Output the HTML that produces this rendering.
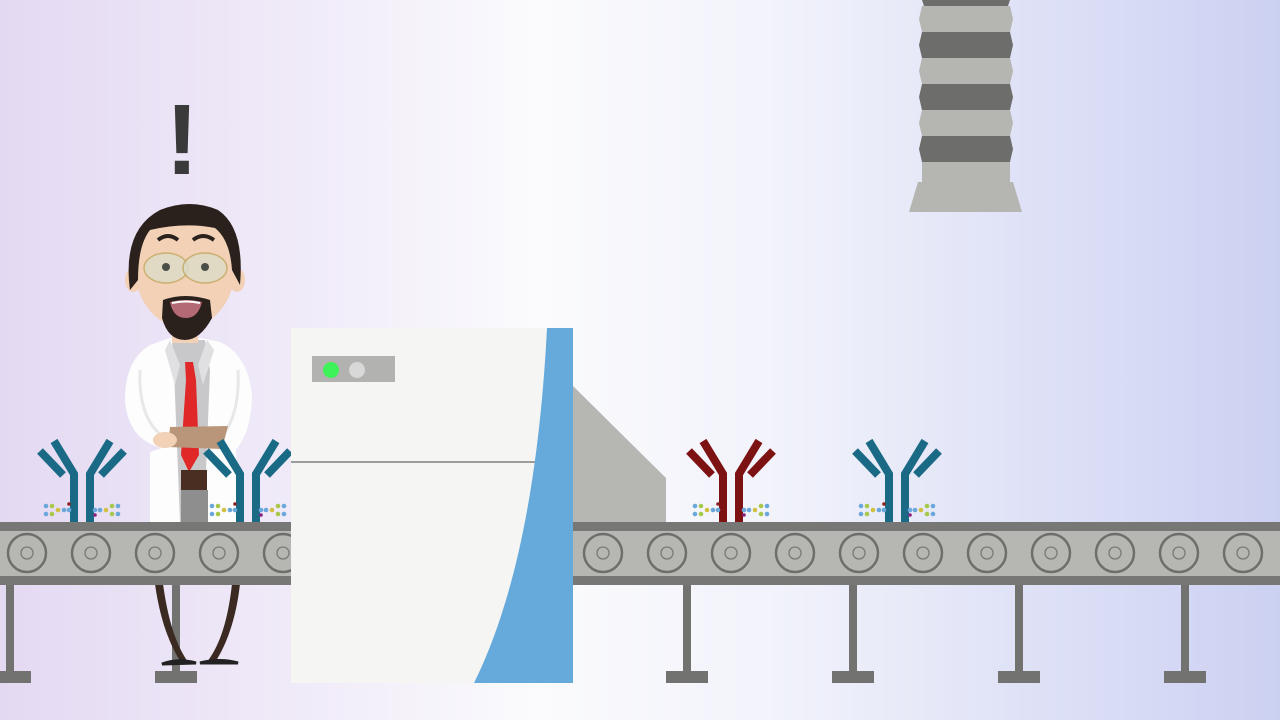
<!DOCTYPE html>
<html><head><meta charset="utf-8"><style>
html,body{margin:0;padding:0;width:1280px;height:720px;overflow:hidden}
svg{display:block}
</style></head><body>
<svg width="1280" height="720" viewBox="0 0 1280 720" xmlns="http://www.w3.org/2000/svg">
<defs>
<linearGradient id="bg" x1="0" y1="0" x2="1" y2="0">
<stop offset="0" stop-color="#e4d9f2"/>
<stop offset="0.25" stop-color="#f1ecf9"/>
<stop offset="0.42" stop-color="#fbfbfd"/>
<stop offset="0.6" stop-color="#f2f3fb"/>
<stop offset="1" stop-color="#ccd1f2"/>
</linearGradient>
<g id="ab">
<g fill="none" stroke-width="8" stroke-linecap="butt">
<polyline points="-8,522 -8,474 -28,441"/>
<polyline points="8,522 8,474 28,441"/>
<line x1="-42" y1="451" x2="-19" y2="475"/>
<line x1="42" y1="451" x2="19" y2="475"/>
</g>
<g stroke="none">
<circle cx="-36" cy="506" r="2.3" fill="#6aa8dc"/><circle cx="-36" cy="514" r="2.3" fill="#6aa8dc"/>
<circle cx="-30" cy="506" r="2.3" fill="#a8c84a"/><circle cx="-30" cy="514" r="2.3" fill="#a8c84a"/>
<circle cx="-24" cy="510" r="2.3" fill="#d2c040"/>
<circle cx="-18" cy="510" r="2.3" fill="#6aa8dc"/><circle cx="-13" cy="510" r="2.3" fill="#6aa8dc"/>
<circle cx="-13" cy="504" r="1.8" fill="#8a2020"/>
<circle cx="36" cy="506" r="2.3" fill="#6aa8dc"/><circle cx="36" cy="514" r="2.3" fill="#6aa8dc"/>
<circle cx="30" cy="506" r="2.3" fill="#a8c84a"/><circle cx="30" cy="514" r="2.3" fill="#a8c84a"/>
<circle cx="24" cy="510" r="2.3" fill="#d2c040"/>
<circle cx="18" cy="510" r="2.3" fill="#6aa8dc"/><circle cx="13" cy="510" r="2.3" fill="#6aa8dc"/>
<circle cx="13" cy="515" r="1.8" fill="#8a2080"/>
</g>
</g>
<g id="roller"><circle r="19" fill="none" stroke="#6e6e6c" stroke-width="2.5"/><circle r="6" fill="none" stroke="#7a7a78" stroke-width="1.3"/></g>
<g id="leg"><rect x="-4" y="584" width="8" height="90" fill="#727270"/><rect x="-21" y="671" width="42" height="12" fill="#727270"/></g>
</defs>
<rect width="1280" height="720" fill="url(#bg)"/>

<g>
<polygon points="922,0 1010,0 1008,6 924,6" fill="#6d6d6b"/>
<polygon points="922,6 1010,6 1013,19 1010,32 922,32 919,19" fill="#b5b5b1"/>
<polygon points="922,32 1010,32 1013,45 1010,58 922,58 919,45" fill="#6d6d6b"/>
<polygon points="922,58 1010,58 1013,71 1010,84 922,84 919,71" fill="#b5b5b1"/>
<polygon points="922,84 1010,84 1013,97 1010,110 922,110 919,97" fill="#6d6d6b"/>
<polygon points="922,110 1010,110 1013,123 1010,136 922,136 919,123" fill="#b5b5b1"/>
<polygon points="922,136 1010,136 1013,149 1010,162 922,162 919,149" fill="#6d6d6b"/>
<rect x="922" y="162" width="88" height="22" fill="#b5b5b1"/>
<polygon points="918,182 1013,182 1022,212 909,212" fill="#b5b5b1"/>
</g>

<use href="#leg" x="10"/><use href="#leg" x="176"/>
<use href="#leg" x="687"/><use href="#leg" x="853"/><use href="#leg" x="1019"/><use href="#leg" x="1185"/>

<path d="M163,584 C168,620 176,645 188,662 L182,664 C170,646 160,620 155,584Z" fill="#3a2a22"/>
<path d="M232,584 C228,620 220,645 207,662 L214,664 C226,646 236,620 240,584Z" fill="#3a2a22"/>
<path d="M162,664 Q178,658 196,663 Z" fill="#222" stroke="#222" stroke-width="3"/>
<path d="M200,663 Q220,658 238,663 Z" fill="#222" stroke="#222" stroke-width="3"/>

<text x="182" y="174" font-family="Liberation Sans, sans-serif" font-size="100" font-weight="bold" fill="#3a3a3a" text-anchor="middle">!</text>
<path d="M150,345 Q125,360 125,400 Q128,440 162,448 L150,452 L150,522 L238,522 L236,450 Q252,430 252,395 Q248,355 220,342 L200,338 L170,338Z" fill="#fdfdfd"/>
<path d="M140,370 Q138,420 165,438" fill="none" stroke="#e8e8ea" stroke-width="3"/>
<path d="M238,370 Q240,410 225,432" fill="none" stroke="#e8e8ea" stroke-width="3"/>
<polygon points="172,340 205,340 210,370 204,522 180,522 174,370" fill="#c8c8ca"/>
<polygon points="170,340 180,365 175,385 165,350" fill="#e0e0e2"/>
<polygon points="207,340 198,365 203,385 214,350" fill="#e0e0e2"/>
<polygon points="185,362 193,362 196,380 199,455 189,472 181,455 186,380" fill="#e02828"/>
<rect x="181" y="470" width="26" height="22" fill="#4a2e22"/>
<rect x="181" y="490" width="27" height="32" fill="#8e8e8e"/>
<polygon points="170,427 228,426 222,449 168,447" fill="#b9957a"/>
<ellipse cx="165" cy="440" rx="12" ry="8" fill="#f2d1b6"/>
<rect x="172" y="325" width="26" height="18" fill="#f2d1b6"/>
<ellipse cx="133" cy="280" rx="8" ry="12" fill="#f2d1b6"/>
<ellipse cx="237" cy="280" rx="8" ry="12" fill="#f2d1b6"/>
<ellipse cx="185" cy="268" rx="50" ry="60" fill="#f2d1b6"/>
<path d="M130,290 Q122,230 160,210 Q190,198 218,210 Q245,228 240,285 L232,270 Q230,240 215,228 Q185,222 150,230 Q138,245 138,280Z" fill="#2a201c"/>
<path d="M158,240 Q168,232 178,240" stroke="#2a201c" stroke-width="4" fill="none"/>
<path d="M193,240 Q203,232 214,240" stroke="#2a201c" stroke-width="4" fill="none"/>
<ellipse cx="166" cy="268" rx="22" ry="15" fill="#dcdcc8" opacity="0.8" stroke="#c2a860" stroke-width="1.5"/>
<ellipse cx="205" cy="268" rx="22" ry="15" fill="#dcdcc8" opacity="0.8" stroke="#c2a860" stroke-width="1.5"/>
<circle cx="166" cy="267" r="4" fill="#4a5048"/><circle cx="205" cy="267" r="4" fill="#4a5048"/>
<path d="M163,300 Q185,292 210,300 L212,318 Q200,340 185,340 Q168,340 162,318Z" fill="#2a201c"/>
<path d="M170,302 Q186,298 202,302 Q198,318 186,318 Q173,318 170,302Z" fill="#b46a74"/>
<path d="M172,303 Q186,300 200,303" stroke="#fff" stroke-width="2" fill="none"/>

<use href="#ab" x="82" stroke="#1a6a86"/>
<use href="#ab" x="248" stroke="#1a6a86"/>
<use href="#ab" x="731" stroke="#7d1212"/>
<use href="#ab" x="897" stroke="#1a6a86"/>

<rect x="0" y="522" width="291" height="9" fill="#777775"/>
<rect x="0" y="531" width="291" height="45" fill="#b6b6b2"/>
<rect x="0" y="576" width="291" height="9" fill="#777775"/>
<rect x="573" y="522" width="707" height="9" fill="#777775"/>
<rect x="573" y="531" width="707" height="45" fill="#b6b6b2"/>
<rect x="573" y="576" width="707" height="9" fill="#777775"/>
<g transform="translate(0,553)">
<use href="#roller" x="27"/><use href="#roller" x="91"/><use href="#roller" x="155"/><use href="#roller" x="219"/><use href="#roller" x="283"/>
<use href="#roller" x="603"/><use href="#roller" x="667"/><use href="#roller" x="731"/><use href="#roller" x="795"/><use href="#roller" x="859"/><use href="#roller" x="923"/><use href="#roller" x="987"/><use href="#roller" x="1051"/><use href="#roller" x="1115"/><use href="#roller" x="1179"/><use href="#roller" x="1243"/>
</g>

<polygon points="573,386 666,478 666,522 573,522" fill="#b6b6b2"/>
<rect x="291" y="328" width="282" height="355" fill="#f5f5f4"/>
<rect x="312" y="356" width="83" height="26" fill="#b2b2b0"/>
<circle cx="331" cy="370" r="8" fill="#3ef25a"/>
<circle cx="357" cy="370" r="8" fill="#d8d8d8"/>
<line x1="291" y1="462" x2="538" y2="462" stroke="#808080" stroke-width="1.5"/>
<path d="M547,328 L573,328 L573,683 L474,683 Q535,560 547,328Z" fill="#66aadb"/>
</svg>
</body></html>
